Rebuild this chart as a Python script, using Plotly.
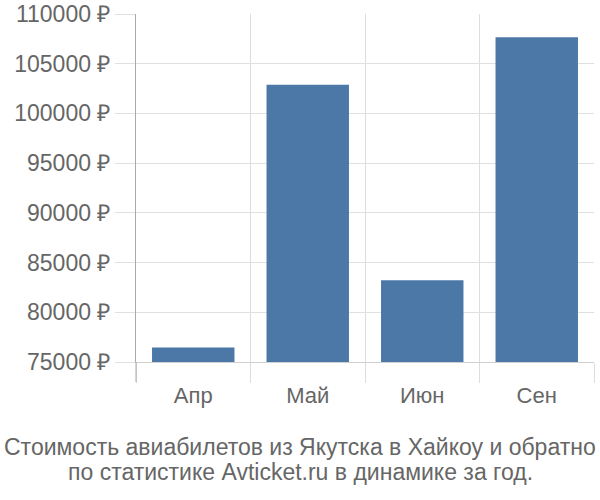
import plotly.graph_objects as go

categories = ["Апр", "Май", "Июн", "Сен"]
prices = [76450, 102880, 83220, 107660]
y_ticks = [75000, 80000, 85000, 90000, 95000, 100000, 105000, 110000]
title_lines = ["Стоимость авиабилетов из Якутска в Хайкоу и обратно",
               "по статистике Avticket.ru в динамике за год."]

PLOT_TOP, PLOT_BOTTOM = 14, 362
PLOT_H = PLOT_BOTTOM - PLOT_TOP

fig = go.Figure()
fig.add_trace(go.Bar(
    x=categories, y=prices, width=0.72,
    marker=dict(color="#4c78a8", line=dict(width=0)),
    hoverinfo="x+y",
))

fig.update_layout(
    width=600, height=500,
    margin=dict(l=136, r=6, t=PLOT_TOP, b=500 - PLOT_BOTTOM, autoexpand=False),
    paper_bgcolor="white", plot_bgcolor="white",
    font=dict(family="Liberation Sans, Arial, sans-serif", color="#666666", size=23),
    showlegend=False,
    xaxis=dict(
        type="category",
        tickson="boundaries",
        automargin=False,
        showgrid=True, gridcolor="#dddddd", gridwidth=1,
        ticks="outside", ticklen=20, tickcolor="#dddddd", tickwidth=1,
        ticklabelstandoff=14,
        showline=True, linecolor="#d0d0d0", linewidth=1,
        tickfont=dict(size=22, color="#666666"),
        zeroline=False,
    ),
    yaxis=dict(
        range=[75000, 110000],
        automargin=False,
        tickvals=y_ticks,
        ticktext=[f"{v} ₽" for v in y_ticks],
        showgrid=True, gridcolor="#e0e0e0", gridwidth=1,
        ticks="outside", ticklen=20, tickcolor="#e0e0e0", tickwidth=1,
        showline=True, linecolor="#aaaaaa", linewidth=1,
        tickfont=dict(size=23, color="#666666"),
        zeroline=False,
    ),
)
for line, py in zip(title_lines, [447, 472]):
    fig.add_annotation(
        text=line, xref="paper", yref="paper",
        x=(300 - 136) / 458, y=(PLOT_BOTTOM - py) / PLOT_H,
        xanchor="center", yanchor="middle", showarrow=False,
        font=dict(size=23, color="#666666"),
    )
fig.add_shape(type="line", xref="paper", yref="paper",
              x0=0, x1=0, y0=-20 / PLOT_H, y1=0,
              line=dict(color="#aaaaaa", width=1))

fig.write_html("out.html", config={"displayModeBar": False})
with open("out.html", encoding="utf-8") as f:
    html = f.read()
html = html.replace("<head>", "<head><style>html,body{margin:0;padding:0;overflow:hidden;}</style>", 1)
with open("out.html", "w", encoding="utf-8") as f:
    f.write(html)
